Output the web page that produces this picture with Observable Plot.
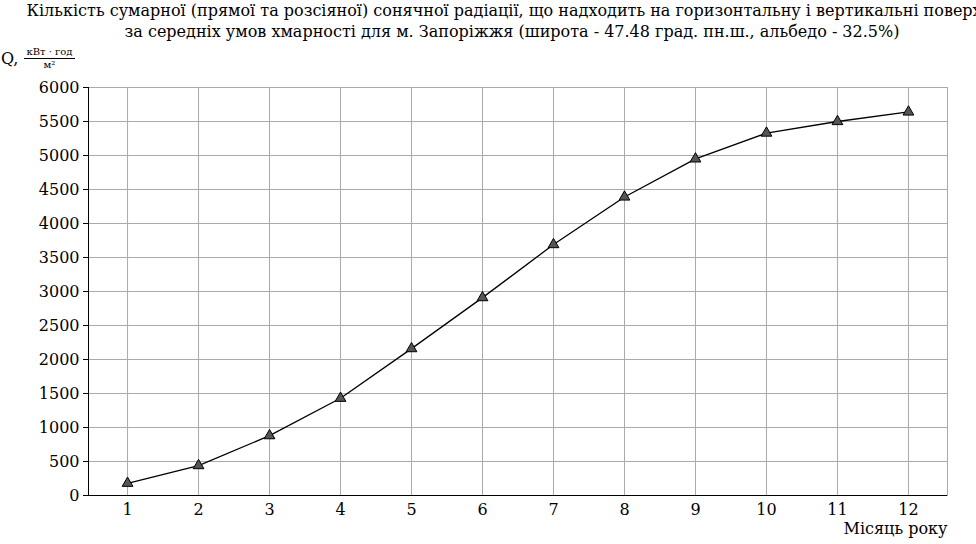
<!DOCTYPE html>
<html><head><meta charset="utf-8">
<script src="https://cdn.jsdelivr.net/npm/d3@7"></script>
<script src="https://cdn.jsdelivr.net/npm/@observablehq/plot@0.6"></script>
<style>
body{margin:0;background:#fff;font-family:"DejaVu Serif",serif;width:976px;overflow:hidden}
.t{position:absolute;top:0;left:0;width:1024px;text-align:center;font-size:16px;line-height:21px;white-space:nowrap}
#c{position:absolute;top:44px;left:0}
.yl{position:absolute;top:46px;left:1px;font-size:16px;display:flex;align-items:center}
.fr{display:inline-flex;flex-direction:column;align-items:center;font-size:10px;margin-left:6px;line-height:12px}
.fr span:first-child{border-bottom:1px solid #000;padding:0 2px}
</style></head><body>
<div class="t">Кількість сумарної (прямої та розсіяної) сонячної радіації, що надходить на горизонтальну і вертикальні поверхні<br>за середніх умов хмарності для м. Запоріжжя (широта - 47.48 град. пн.ш., альбедо - 32.5%)</div>
<div class="yl">Q,<span class="fr"><span>кВт · год</span><span>м²</span></span></div>
<div id="c"></div>
<script>
const months=[1,2,3,4,5,6,7,8,9,10,11,12];
const values=[180,440,880,1430,2160,2910,3690,4390,4950,5330,5500,5640];
const data=months.map((m,i)=>({m,v:values[i]}));
const p=Plot.plot({
 width:976,height:500,marginLeft:88,marginRight:29,marginTop:43,marginBottom:49,
 style:{fontFamily:"DejaVu Serif, serif",fontSize:"16px",color:"#000"},
 x:{domain:[0.45,12.55],ticks:months,tickFormat:d=>d,label:null,tickSize:0,tickPadding:8},
 y:{domain:[0,6000],ticks:d3.range(0,6001,500),tickFormat:d=>String(d),label:null,tickSize:5},
 marks:[
  Plot.gridX(months,{stroke:"#aaa",strokeOpacity:1}),
  Plot.gridY(d3.range(500,6001,500),{stroke:"#aaa",strokeOpacity:1}),
  Plot.frame({stroke:"#aaa"}),
  Plot.ruleY([0],{stroke:"#000"}),
  Plot.ruleX([0.45],{stroke:"#000"}),
  Plot.line(data,{x:"m",y:"v",stroke:"#000",strokeWidth:1.3}),
  Plot.dot(data,{x:"m",y:"v",symbol:"triangle",r:4,fill:"#555",stroke:"#000",strokeWidth:1}),
  Plot.text(["Місяць року"],{frameAnchor:"bottom-right",dy:38,text:d=>d,fontSize:16,textAnchor:"end"})
 ]
});
document.getElementById("c").appendChild(p);
</script></body></html>
